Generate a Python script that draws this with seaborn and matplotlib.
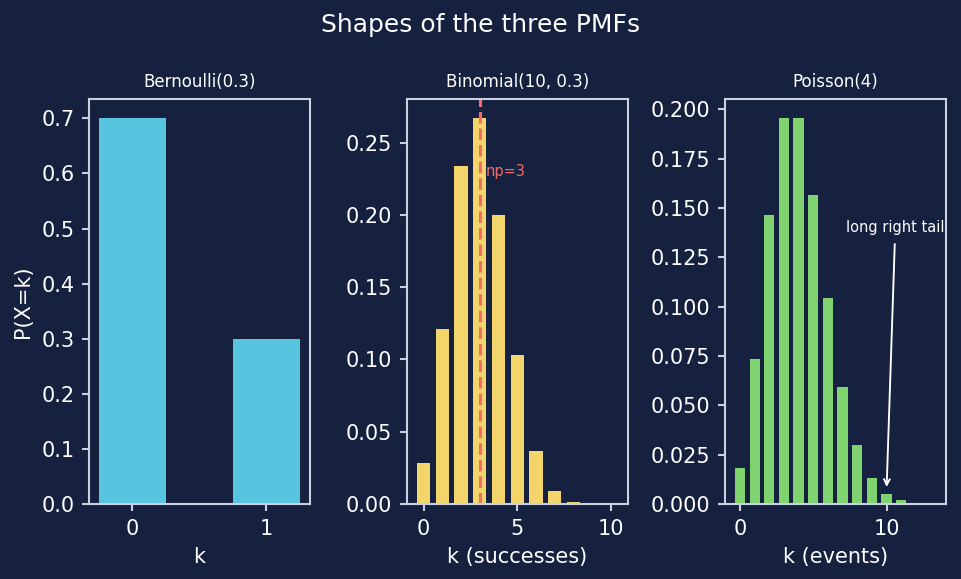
import seaborn as sns
import numpy as np
import pandas as pd
import matplotlib
matplotlib.use('Agg')
import matplotlib.pyplot as plt

# data
bern_k = [0, 1]
bern_p = [0.7, 0.3]

binom_k = [0, 1, 2, 3, 4, 5, 6, 7, 8, 9, 10]
binom_p = [0.0282, 0.1211, 0.2335, 0.2668, 0.2001, 0.1029, 0.0368, 0.0090, 0.0014, 0.0001, 0.0000]

pois_k = [0, 1, 2, 3, 4, 5, 6, 7, 8, 9, 10, 11, 12, 13]
pois_p = [0.0183, 0.0733, 0.1465, 0.1954, 0.1954, 0.1563, 0.1042, 0.0595,
          0.0298, 0.0132, 0.0053, 0.0019, 0.0006, 0.0002]

titles = ['Bernoulli(0.3)', 'Binomial(10, 0.3)', 'Poisson(4)']
xlabels = ['k', 'k (successes)', 'k (events)']

BG = '#16203f'
FG = '#ffffff'
SPINE = '#c9d0e0'
colors = ['#57c4e0', '#f3d56c', '#7fd470']
RED = '#f46d6d'

sns.set_theme(style='ticks')
plt.rcParams['font.family'] = ['DejaVu Sans']

fig, axes = plt.subplots(1, 3, figsize=(961 / 150, 579 / 150), dpi=150)
fig.patch.set_facecolor(BG)
fig.subplots_adjust(left=0.0926, right=0.984, top=0.829, bottom=0.1295, wspace=0.44)

panels = [
    (bern_k, bern_p, 0.5),
    (binom_k, binom_p, 0.7),
    (pois_k, pois_p, 0.7),
]

for i, (ax, (k, p, w)) in enumerate(zip(axes, panels)):
    df = pd.DataFrame({'k': k, 'p': p})
    sns.barplot(data=df, x='k', y='p', native_scale=True, width=w,
                color=colors[i], saturation=1, errorbar=None, linewidth=0, ax=ax)
    ax.set_facecolor(BG)
    for s in ax.spines.values():
        s.set_color(SPINE)
        s.set_linewidth(1.0)
    ax.tick_params(colors=SPINE, labelcolor=FG, labelsize=10, length=3.5, width=1)
    ax.set_title(titles[i], color=FG, fontsize=8)
    ax.set_xlabel(xlabels[i], color=FG, fontsize=10)
    ax.set_ylabel('')
    ax.margins(x=0.05, y=0.05)

axes[0].set_xticks(bern_k)
axes[0].set_ylabel('P(X=k)', color=FG, fontsize=10)
axes[1].set_xticks([0, 5, 10])
axes[2].set_xticks([0, 10])

# mean line on the binomial
axes[1].axvline(3, color=RED, linestyle='--', linewidth=1.5)
axes[1].text(3.3, 0.23, 'np=3', color=RED, fontsize=7, va='center', ha='left')

# tail annotation on the poisson
axes[2].annotate('long right tail', xy=(10, 0.0065), xytext=(10.6, 0.14),
                 color=FG, fontsize=7, ha='center', va='center',
                 arrowprops=dict(arrowstyle='->', color=FG, lw=0.9))

fig.suptitle('Shapes of the three PMFs', color=FG, fontsize=12, y=0.957, va='center')

fig.savefig('out.png', dpi=150, facecolor=BG)
